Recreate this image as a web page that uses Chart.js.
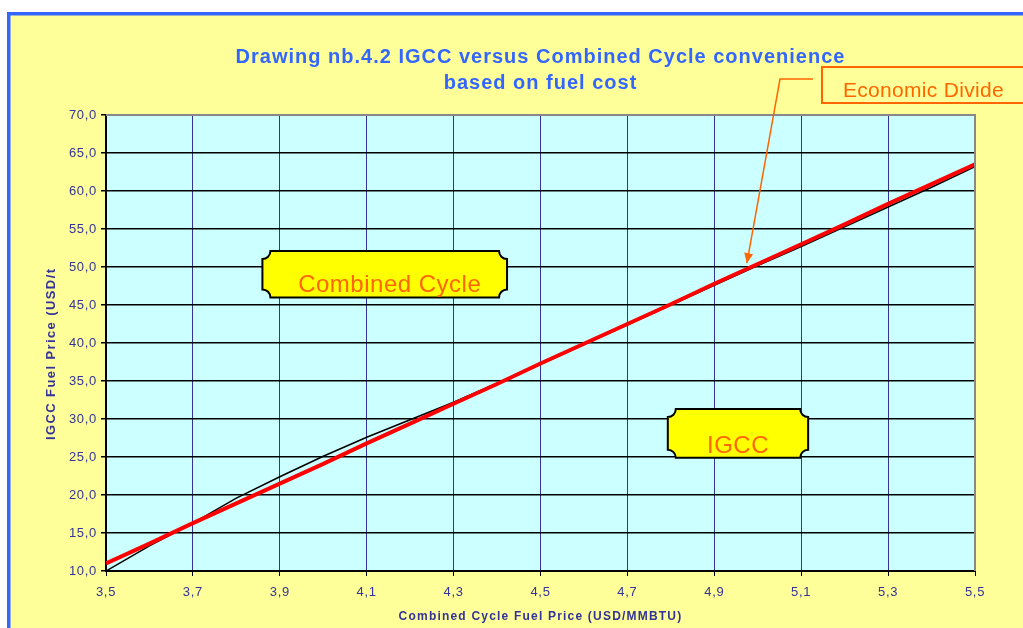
<!DOCTYPE html>
<html>
<head>
<title>IGCC versus Combined Cycle</title>
<script src="https://cdn.jsdelivr.net/npm/chart.js"></script>
<style>
  body { margin: 0; background: #fff; overflow: hidden; }
</style>
</head>
<body>

<canvas id="igcc_chart" width="1023" height="628"></canvas>

<script>
// combined cycle fuel price (USD/MMBTU)
const ccFuelPrice = [3.5, 3.6, 3.7, 3.8, 3.9, 4.0, 4.1, 4.2, 4.3, 4.4, 4.5,
                     4.6, 4.7, 4.8, 4.9, 5.0, 5.1, 5.2, 5.3, 5.4, 5.5];
// IGCC fuel price, black curve
const igccFuelPrice = [10.0, 13.3, 16.3, 19.6, 22.4, 25.1, 27.6, 29.9, 32.2, 34.7, 37.2,
                       39.8, 42.4, 45.0, 47.6, 50.2, 52.7, 55.3, 57.9, 60.5, 63.2];
// economic divide, red line
const economicDivide = [11.0, 13.6, 16.3, 18.9, 21.5, 24.1, 26.8, 29.4, 32.0, 34.6, 37.3,
                        39.9, 42.5, 45.1, 47.8, 50.4, 53.0, 55.6, 58.3, 60.9, 63.5];

const titleLines = ['Drawing nb.4.2 IGCC versus Combined Cycle convenience', 'based on fuel cost'];
const xTitle = 'Combined Cycle Fuel Price (USD/MMBTU)';
const yTitle = 'IGCC Fuel Price (USD/t';

// label boxes, in data units
const regionBoxes = [
    { text: 'Combined Cycle', x0: 3.86, x1: 4.423, y0: 52.1, y1: 46.0, dx: 5 },
    { text: 'IGCC', x0: 4.793, x1: 5.116, y0: 31.3, y1: 24.9, dx: 0 }
];
const arrowTip = { x: 4.975, y: 50.5 };

const FONT = '"Liberation Sans", Arial, sans-serif';

function toPoints(ys) {
    return ccFuelPrice.map((x, i) => ({ x: x, y: ys[i] }));
}

function commaLabel(v) {
    return Number(v).toFixed(1).replace('.', ',');
}

function notchedBox(ctx, x, y, w, h, r) {
    ctx.beginPath();
    ctx.moveTo(x + r, y);
    ctx.lineTo(x + w - r, y);
    ctx.arc(x + w, y, r, Math.PI, Math.PI / 2, true);
    ctx.lineTo(x + w, y + h - r);
    ctx.arc(x + w, y + h, r, -Math.PI / 2, Math.PI, true);
    ctx.lineTo(x + r, y + h);
    ctx.arc(x, y + h, r, 0, -Math.PI / 2, true);
    ctx.lineTo(x, y + r);
    ctx.arc(x, y, r, Math.PI / 2, 0, true);
    ctx.closePath();
}

const decorPlugin = {
    id: 'decor',
    beforeDraw(chart) {
        const ctx = chart.ctx;
        const a = chart.chartArea;
        ctx.save();
        ctx.fillStyle = '#ffffff';
        ctx.fillRect(0, 0, chart.width, chart.height);
        ctx.fillStyle = '#FFFF99';
        ctx.fillRect(7, 12, chart.width, chart.height);
        ctx.fillStyle = '#3366FF';
        ctx.fillRect(7, 12, chart.width, 3.5);
        ctx.fillRect(7, 12, 3.5, chart.height);
        ctx.fillStyle = '#CCFFFF';
        ctx.fillRect(a.left, a.top, a.right - a.left, a.bottom - a.top);
        ctx.restore();
        // slightly spaced tick labels like the original
        ctx.letterSpacing = '0.7px';
    },
    afterDraw(chart) {
        const ctx = chart.ctx;
        const a = chart.chartArea;
        const xs = chart.scales.x, ys = chart.scales.y;
        ctx.save();

        // gray top / right edge of plot
        ctx.strokeStyle = '#888888';
        ctx.lineWidth = 2;
        ctx.beginPath();
        ctx.moveTo(a.left, a.top);
        ctx.lineTo(a.right, a.top);
        ctx.lineTo(a.right, a.bottom);
        ctx.stroke();

        // title
        ctx.fillStyle = '#3366FF';
        ctx.font = 'bold 20px ' + FONT;
        ctx.letterSpacing = '1px';
        ctx.textAlign = 'center';
        ctx.textBaseline = 'middle';
        const cx = (a.left + a.right) / 2;
        ctx.fillText(titleLines[0], cx, 57);
        ctx.fillText(titleLines[1], cx, 83);

        // axis titles
        ctx.fillStyle = '#333399';
        ctx.font = 'bold 12px ' + FONT;
        ctx.letterSpacing = '1.2px';
        ctx.fillText(xTitle, cx, 617);
        ctx.save();
        ctx.translate(51, 440);
        ctx.rotate(-Math.PI / 2);
        ctx.textAlign = 'left';
        ctx.font = 'bold 13px ' + FONT;
        ctx.letterSpacing = '1.4px';
        ctx.fillText(yTitle, 0, 0);
        ctx.restore();

        // region labels
        ctx.letterSpacing = '0.5px';
        regionBoxes.forEach(b => {
            const x0 = xs.getPixelForValue(b.x0), x1 = xs.getPixelForValue(b.x1);
            const y0 = ys.getPixelForValue(b.y0), y1 = ys.getPixelForValue(b.y1);
            notchedBox(ctx, x0, y0, x1 - x0, y1 - y0, 8);
            ctx.fillStyle = '#FFFF00';
            ctx.fill();
            ctx.strokeStyle = '#000000';
            ctx.lineWidth = 2;
            ctx.stroke();
            ctx.fillStyle = '#FF6600';
            ctx.font = '24px ' + FONT;
            ctx.textAlign = 'center';
            ctx.textBaseline = 'alphabetic';
            ctx.fillText(b.text, (x0 + x1) / 2 + b.dx, y1 - 5);
        });

        // economic divide callout
        ctx.strokeStyle = '#FF6600';
        ctx.lineWidth = 2;
        ctx.strokeRect(822, 67, 240, 36);
        ctx.fillStyle = '#FF6600';
        ctx.font = '21px ' + FONT;
        ctx.letterSpacing = '0.3px';
        ctx.textAlign = 'left';
        ctx.textBaseline = 'middle';
        ctx.fillText('Economic Divide', 843, 91);

        const tx = xs.getPixelForValue(arrowTip.x), ty = ys.getPixelForValue(arrowTip.y);
        const kx = 780, ky = 79;
        ctx.lineWidth = 1.5;
        ctx.beginPath();
        ctx.moveTo(813, ky);
        ctx.lineTo(kx, ky);
        ctx.lineTo(tx, ty);
        ctx.stroke();
        const ang = Math.atan2(ty - ky, tx - kx);
        const len = 10, half = 4.5;
        ctx.beginPath();
        ctx.moveTo(tx, ty);
        ctx.lineTo(tx - len * Math.cos(ang) + half * Math.sin(ang), ty - len * Math.sin(ang) - half * Math.cos(ang));
        ctx.lineTo(tx - len * Math.cos(ang) - half * Math.sin(ang), ty - len * Math.sin(ang) + half * Math.cos(ang));
        ctx.closePath();
        ctx.fill();

        ctx.restore();
    }
};

new Chart(document.getElementById('igcc_chart').getContext('2d'), {
    type: 'line',
    data: {
        datasets: [{
            label: 'IGCC',
            data: toPoints(igccFuelPrice),
            borderColor: '#000000',
            borderWidth: 1.5,
            pointRadius: 0,
            tension: 0,
            fill: false,
            order: 2
        }, {
            label: 'Economic Divide',
            data: toPoints(economicDivide),
            borderColor: '#FF0000',
            borderWidth: 4,
            pointRadius: 0,
            tension: 0,
            fill: false,
            order: 1
        }]
    },
    options: {
        responsive: false,
        animation: false,
        layout: { padding: { top: 115, right: 48, bottom: 0, left: 0 } },
        scales: {
            x: {
                type: 'linear',
                min: 3.5,
                max: 5.5,
                afterFit: s => { s.height = 57; },
                ticks: {
                    stepSize: 0.2,
                    padding: 9,
                    color: '#333399',
                    font: { size: 13, family: FONT },
                    callback: v => commaLabel(v)
                },
                grid: { color: '#333399', lineWidth: 1, tickColor: '#000000', tickLength: 5 },
                border: { color: '#000000', width: 2 }
            },
            y: {
                min: 10,
                max: 70,
                afterFit: s => { s.width = 106; },
                ticks: {
                    stepSize: 5,
                    padding: 4,
                    color: '#333399',
                    font: { size: 13, family: FONT },
                    callback: v => commaLabel(v)
                },
                grid: { color: '#000000', lineWidth: 1.5, tickColor: '#000000', tickLength: 5 },
                border: { color: '#000000', width: 2 }
            }
        },
        plugins: {
            legend: { display: false },
            tooltip: { enabled: false }
        }
    },
    plugins: [decorPlugin]
});
</script>

</body>
</html>
